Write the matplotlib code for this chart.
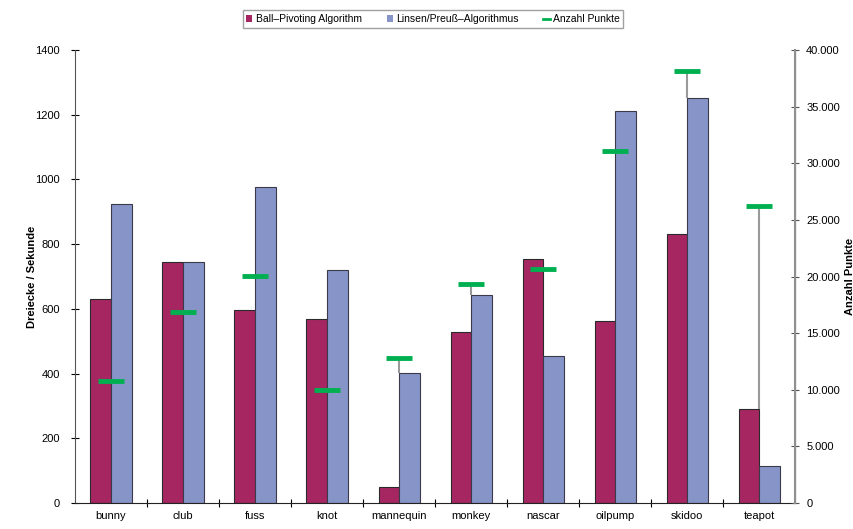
import numpy as np
import matplotlib.pyplot as plt
from matplotlib.patches import Patch
from matplotlib.lines import Line2D
from matplotlib.ticker import FuncFormatter

plt.rcParams['font.family'] = ['Liberation Sans', 'DejaVu Sans']

models = ["bunny", "club", "fuss", "knot", "mannequin", "monkey",
          "nascar", "oilpump", "skidoo", "teapot"]
ball_pivoting = [630, 746, 595, 569, 50, 527, 754, 563, 831, 292]
linsen_preuss = [924, 746, 977, 720, 403, 643, 454, 1212, 1252, 114]
punkte = [10800, 16900, 20050, 10000, 12800, 19300, 20700, 31100, 38150, 26250]

c_bp = "#a62662"
c_lp = "#8794c8"
c_pts = "#00b050"

fig = plt.figure(figsize=(8.54, 5.29), dpi=100)
ax = fig.add_axes([0.0878, 0.0491, 0.8432, 0.8564])
ax2 = ax.twinx()

x = np.arange(len(models))
w = 0.285
ax.bar(x - w / 2, ball_pivoting, w, color=c_bp, edgecolor="#2a2a2a", linewidth=0.8, zorder=2)
ax.bar(x + w / 2, linsen_preuss, w, color=c_lp, edgecolor="#3a3a4a", linewidth=0.8, zorder=2)

ax.set_xlim(-0.5, len(models) - 0.5)
ax.set_ylim(0, 1400)
ax2.set_ylim(0, 40000)
scale = 40000 / 1400

# grey drop line from the point marker down to the taller bar
for i, p in enumerate(punkte):
    top = max(ball_pivoting[i], linsen_preuss[i]) * scale
    if p > top:
        ax2.vlines(x[i], top, p, color="#9a9a9a", linewidth=1.5, zorder=1)

ax2.plot(x, punkte, linestyle="none", marker="_", markersize=19,
         markeredgewidth=3.5, color=c_pts, zorder=3)

ax.set_yticks(np.arange(0, 1401, 200))
ax2.set_yticks(np.arange(0, 40001, 5000))
ax2.yaxis.set_major_formatter(FuncFormatter(lambda v, _: f"{int(v):,}".replace(",", ".")))

ax.set_xticks(x)
ax.set_xticklabels(models)
ax.set_xticks(np.arange(-0.5, len(models), 1)[1:-1], minor=True)
ax.tick_params(axis="x", which="major", length=0, labelsize=8, pad=6)
ax.tick_params(axis="x", which="minor", length=6, direction="inout", width=0.8)
ax.tick_params(axis="y", length=6, direction="inout", labelsize=8, width=0.8, pad=8)
ax2.tick_params(axis="y", length=6, direction="inout", labelsize=8, width=0.8,
                color="#555555", pad=5)

for a in (ax, ax2):
    a.spines["top"].set_visible(False)
ax.spines["left"].set_color("#555555")
ax2.spines["left"].set_visible(False)
ax2.spines["right"].set_color("#909090")
ax2.spines["right"].set_linewidth(1.5)
ax.spines["bottom"].set_color("#222222")
ax2.spines["bottom"].set_visible(False)

ax.set_ylabel("Dreiecke / Sekunde", fontsize=8, fontweight="bold")
ax.yaxis.set_label_coords(-0.053, 0.5)
ax2.set_ylabel("Anzahl Punkte", fontsize=8, fontweight="bold", rotation=90)
ax2.yaxis.set_label_coords(1.07, 0.5)

handles = [Patch(facecolor=c_bp, edgecolor="none"),
           Patch(facecolor=c_lp, edgecolor="none"),
           Line2D([], [], color=c_pts, linewidth=2)]
labels = ["Ball\u2013Pivoting Algorithm", "Linsen/Preu\u00df\u2013Algorithmus", "Anzahl Punkte"]
leg = fig.legend(handles, labels, loc="upper center", bbox_to_anchor=(0.507, 0.99),
                 ncol=3, fontsize=7.5, frameon=True, fancybox=False, edgecolor="#8a8a8a",
                 handlelength=0.6, handleheight=0.6, handletextpad=0.3, columnspacing=2.4,
                 borderpad=0.35)
leg.get_frame().set_linewidth(1.0)

fig.savefig("out.png", dpi=100)
